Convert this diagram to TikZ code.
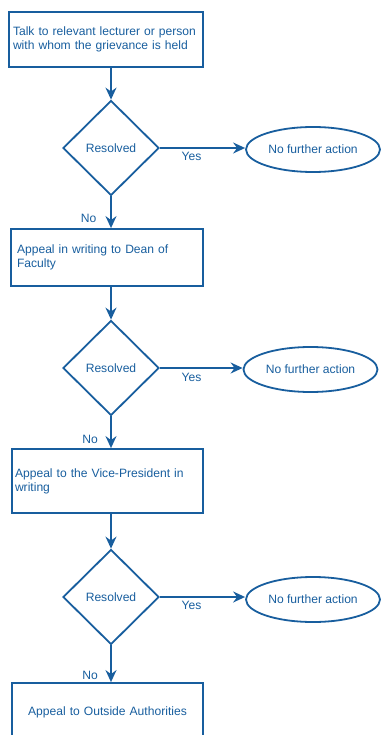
\documentclass[tikz,border=0pt]{standalone}
\usepackage{fontspec}
\setmainfont{Liberation Sans}
\usetikzlibrary{shapes.geometric,arrows.meta}
\definecolor{fcblue}{RGB}{24,94,158}
\tikzset{
  base/.style={draw=fcblue, line width=1.8pt, text=fcblue, font=\fontsize{12.1}{13.8}\selectfont},
  stepbox/.style={base, rectangle, align=left, inner xsep=4pt, inner ysep=0pt},
  decision/.style={base, diamond, minimum width=96pt, minimum height=95pt, inner sep=0pt},
  terminal/.style={base, ellipse, minimum width=134pt, minimum height=45pt, inner sep=0pt},
  lbl/.style={text=fcblue, font=\fontsize{12.1}{13.8}\selectfont, inner sep=0pt},
  flow/.style={draw=fcblue, line width=1.8pt, -{Stealth[length=12pt,width=11pt,inset=4pt]}}
}
\begin{document}
\begin{tikzpicture}[x=1pt,y=-1pt]
\useasboundingbox (0,0) rectangle (380,735);
% boxes
\node[stepbox, minimum width=194pt, minimum height=55pt, text width=186pt] (b1) at (106,39.5)
  {Talk to relevant lecturer or person\\with whom the grievance is held};
\node[stepbox, minimum width=192pt, minimum height=57pt, text width=180pt, inner xsep=6pt] (b2) at (107,257.5)
  {Appeal in writing to Dean of\\Faculty};
\node[stepbox, minimum width=191pt, minimum height=64pt, text width=185pt, inner xsep=3pt] (b3) at (107.5,481)
  {Appeal to the Vice-President in\\writing};
\node[stepbox, minimum width=191pt, minimum height=58pt, text width=183pt, align=center] (b4) at (107.5,712)
  {Appeal to Outside Authorities};
% decisions
\node[decision] (d1) at (111,148) {Resolved};
\node[decision] (d2) at (111,368) {Resolved};
\node[decision] (d3) at (111,597) {Resolved};
% terminals
\node[terminal] (e1) at (313,149.5) {No further action};
\node[terminal] (e2) at (310.5,369.5) {No further action};
\node[terminal] (e3) at (313,599.5) {No further action};
% connectors
\draw[flow] (d1.north |- b1.south) -- (d1.north);
\draw[flow] (d1.south) -- (d1.south |- b2.north);
\draw[flow] (d1.east) -- (e1.west |- d1.east);
\draw[flow] (d2.north |- b2.south) -- (d2.north);
\draw[flow] (d2.south) -- (d2.south |- b3.north);
\draw[flow] (d2.east) -- (e2.west |- d2.east);
\draw[flow] (d3.north |- b3.south) -- (d3.north);
\draw[flow] (d3.south) -- (d3.south |- b4.north);
\draw[flow] (d3.east) -- (e3.west |- d3.east);
% labels
\node[lbl] (y1) at (191.5,156) {Yes};
\node[lbl] (y2) at (191.5,377) {Yes};
\node[lbl] (y3) at (191.5,605) {Yes};
\node[lbl] (n1) at (88.5,218) {No};
\node[lbl] (n2) at (90,439) {No};
\node[lbl] (n3) at (90,675) {No};
\end{tikzpicture}
\end{document}
